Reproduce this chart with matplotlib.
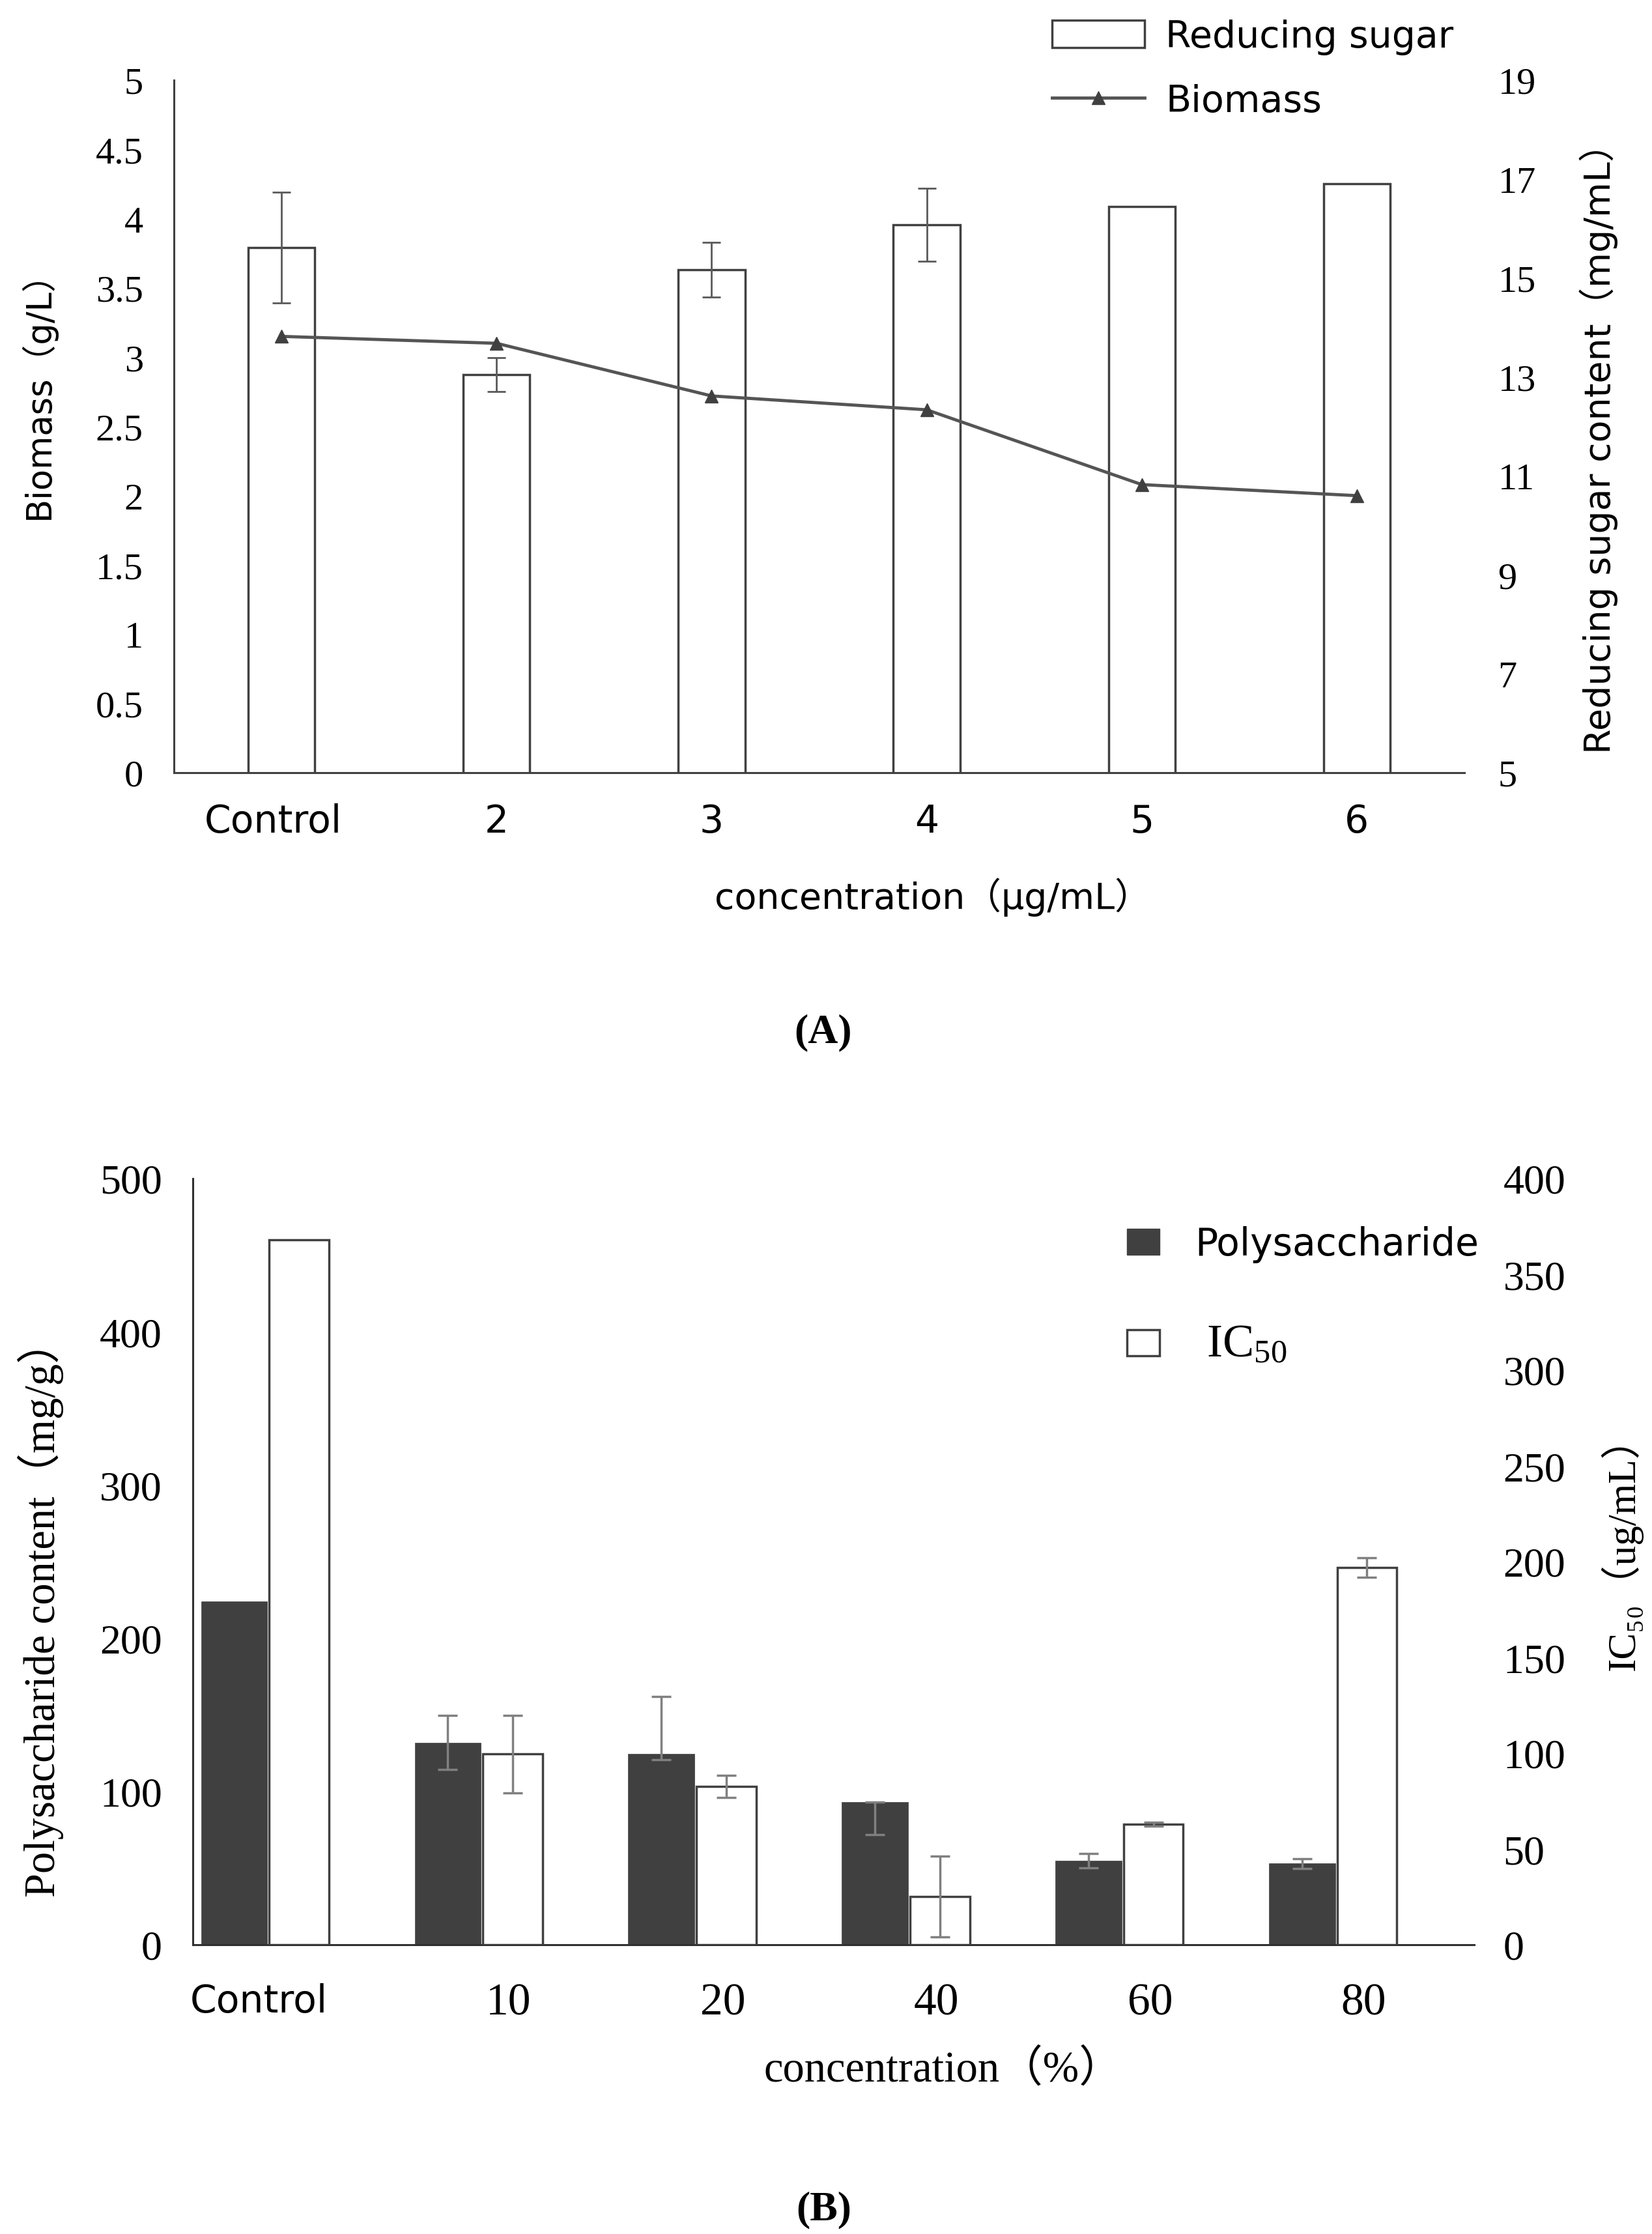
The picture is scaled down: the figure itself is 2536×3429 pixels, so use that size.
import matplotlib
matplotlib.use('Agg')
import matplotlib.pyplot as plt
from matplotlib.patches import Patch
from matplotlib.lines import Line2D
import numpy as np

plt.rcParams['mathtext.fontset'] = 'custom'
plt.rcParams['mathtext.rm'] = 'Liberation Serif'
plt.rcParams['mathtext.it'] = 'Liberation Serif:italic'
plt.rcParams['mathtext.bf'] = 'Liberation Serif:bold'

# ---------------- Panel A data ----------------
a_categories = ['Control', '2', '3', '4', '5', '6']
a_sugar = [15.62, 13.05, 15.17, 16.08, 16.45, 16.90]          # right axis, mg/mL
a_sugar_err = [1.12, 0.34, 0.55, 0.74, 0.0, 0.0]
a_biomass = [3.15, 3.10, 2.72, 2.62, 2.08, 2.00]               # left axis, g/L
a_left_ticks = [0, 0.5, 1, 1.5, 2, 2.5, 3, 3.5, 4, 4.5, 5]
a_left_ticklabels = ['0', '0.5', '1', '1.5', '2', '2.5', '3', '3.5', '4', '4.5', '5']
a_right_ticks = [5, 7, 9, 11, 13, 15, 17, 19]

# ---------------- Panel B data ----------------
b_categories = ['Control', '10', '20', '40', '60', '80']
b_poly = [224, 132, 124.4, 93, 55, 53]                         # left axis, mg/g
b_poly_err_low = [0, 17.5, 3.7, 21, 4.7, 3.1]
b_poly_err_high = [0, 17.5, 37.6, 0, 4.7, 3.1]
b_ic50 = [368, 99.5, 82.6, 25.2, 62.8, 197]                    # right axis, ug/mL
b_ic50_err = [0, 20.2, 5.8, 21, 1.0, 5.0]
b_left_ticks = [0, 100, 200, 300, 400, 500]
b_right_ticks = [0, 50, 100, 150, 200, 250, 300, 350, 400]

W, H = 2536, 3430
fig = plt.figure(figsize=(W / 100, H / 100), dpi=100)
fig.patch.set_facecolor('white')

def fx(px):
    return px / W

def fy(py):
    return 1 - py / H

SANS = ['DejaVu Sans', 'Noto Sans CJK SC']
SERIF = ['Liberation Serif', 'DejaVu Serif', 'Noto Sans CJK SC']
EDGE = '#404040'

# ======================= Panel A =======================
axA = fig.add_axes([fx(267), fy(1187), (2248 - 267) / W, (1187 - 124) / H])
axA2 = axA.twinx()
xa = np.arange(len(a_categories))

axA2.bar(xa, a_sugar, width=0.31, bottom=0, color='white', edgecolor=EDGE,
         linewidth=2.5, zorder=2)
a_err = np.array(a_sugar_err)
m = a_err > 0
axA2.errorbar(xa[m], np.array(a_sugar)[m], yerr=a_err[m], fmt='none',
              ecolor='#5a5a5a', elinewidth=2.0, capsize=10, capthick=2.0, zorder=3)
axA2.set_ylim(5, 19)
axA2.set_yticks(a_right_ticks)
axA2.set_yticklabels([str(t) for t in a_right_ticks], fontfamily='Liberation Serif', fontsize=42)
axA2.tick_params(axis='y', length=0, pad=37)
for s in axA2.spines.values():
    s.set_visible(False)

axA.plot(xa, a_biomass, color='#555555', linewidth=3.5, marker='^', markersize=15,
         markerfacecolor='#404040', markeredgecolor='#404040', zorder=5)
axA.set_zorder(axA2.get_zorder() + 1)
axA.patch.set_visible(False)
axA.set_xlim(-0.5, 5.5)
axA.set_ylim(0, 5)
axA.set_yticks(a_left_ticks)
axA.set_yticklabels(a_left_ticklabels, fontfamily='Liberation Serif', fontsize=42)
axA.set_xticks(xa + np.array([-0.04, 0, 0, 0, 0, 0]))
axA.set_xticklabels(a_categories, fontfamily='DejaVu Sans', fontsize=42)
axA.tick_params(axis='y', length=0, pad=34)
axA.tick_params(axis='x', length=0, pad=33)
for side in ['top', 'right']:
    axA.spines[side].set_visible(False)
for side in ['left', 'bottom']:
    axA.spines[side].set_color(EDGE)
    axA.spines[side].set_linewidth(2.2)

fig.text(fx(58), fy(593), 'Biomass（g/L）', rotation=90, ha='center', va='center',
         fontsize=38, family=SANS)
fig.text(fx(2454), fy(675), 'Reducing sugar content（mg/mL）', rotation=90,
         ha='center', va='center', fontsize=40, family=SANS)
fig.text(fx(1432), fy(1377), 'concentration（μg/mL）', ha='center', va='center',
         fontsize=40, family=SANS)
fig.text(fx(1264), fy(1585), '(A)', ha='center', va='center', fontsize=46,
         family='Liberation Serif', fontweight='bold')

hA = [Patch(facecolor='white', edgecolor=EDGE, linewidth=2.5),
      Line2D([], [], color='#555555', linewidth=3.5, marker='^', markersize=14,
             markerfacecolor='#404040', markeredgecolor='#404040')]
fig.legend(hA, ['Reducing sugar', 'Biomass'], loc='upper left',
           bbox_to_anchor=(fx(1615), fy(30)), frameon=False,
           prop={'family': 'DejaVu Sans', 'size': 41}, handlelength=2.5,
           handleheight=0.75, handletextpad=0.56, labelspacing=0.77,
           borderpad=0, borderaxespad=0, numpoints=1)

# ======================= Panel B =======================
axB = fig.add_axes([fx(296), fy(2986), (2263 - 296) / W, (2986 - 1810) / H])
axB2 = axB.twinx()
xb = np.arange(len(b_categories))

axB.bar(xb - 0.154, b_poly, width=0.31, color='#404040', edgecolor='#404040',
        linewidth=0.5, zorder=2)
lo = np.array(b_poly_err_low)
hi = np.array(b_poly_err_high)
m = (lo + hi) > 0
axB.errorbar((xb - 0.154)[m], np.array(b_poly)[m], yerr=[lo[m], hi[m]], fmt='none',
             ecolor='#808080', elinewidth=2.5, capsize=11, capthick=2.5, zorder=3)
axB.set_xlim(-0.348, 5.652)
axB.set_ylim(0, 500)
axB.set_yticks(b_left_ticks)
axB.set_yticklabels([str(t) for t in b_left_ticks], fontfamily='Liberation Serif', fontsize=46)
axB.set_xticks(xb + np.array([-0.04, 0.13, 0.135, 0.135, 0.135, 0.135]))
axB.set_xticklabels(b_categories, fontfamily='Liberation Serif', fontsize=50)
xtl = axB.get_xticklabels()
xtl[0].set_fontfamily('DejaVu Sans')
xtl[0].set_fontsize(42)
axB.tick_params(axis='y', length=0, pad=34)
axB.tick_params(axis='x', length=0, pad=42)
for side in ['top', 'right']:
    axB.spines[side].set_visible(False)
for side in ['left', 'bottom']:
    axB.spines[side].set_color('#303030')
    axB.spines[side].set_linewidth(2.2)

axB2.bar(xb + 0.15, b_ic50, width=0.28, color='white', edgecolor=EDGE,
         linewidth=2.5, zorder=2)
ie = np.array(b_ic50_err)
m = ie > 0
axB2.errorbar((xb + 0.15)[m], np.array(b_ic50)[m], yerr=ie[m], fmt='none',
              ecolor='#808080', elinewidth=2.5, capsize=11, capthick=2.5, zorder=3)
axB2.set_ylim(0, 400)
axB2.set_yticks(b_right_ticks)
axB2.set_yticklabels([str(t) for t in b_right_ticks], fontfamily='Liberation Serif', fontsize=46)
axB2.tick_params(axis='y', length=0, pad=32)
for s in axB2.spines.values():
    s.set_visible(False)

fig.text(fx(62), fy(2469), 'Polysaccharide content（mg/g）', rotation=90,
         ha='center', va='center', fontsize=48, family=SERIF)
fig.text(fx(2489), fy(2370), 'IC₅₀（ug/mL）', rotation=90, ha='center', va='center',
         fontsize=44, family=SERIF)
fig.text(fx(1448), fy(3177), 'concentration（%）', ha='center', va='center',
         fontsize=48, family=SERIF)
fig.text(fx(1265), fy(3392), '(B)', ha='center', va='center', fontsize=46,
         family='Liberation Serif', fontweight='bold')

hB = [Patch(facecolor='#404040', edgecolor='#404040'),
      Patch(facecolor='white', edgecolor=EDGE, linewidth=2.5)]
legB = fig.legend(hB, ['Polysaccharide', ' IC$_{50}$'], loc='upper left',
                  bbox_to_anchor=(fx(1730), fy(1882)), frameon=False,
                  prop={'family': 'DejaVu Sans', 'size': 42}, handlelength=0.85,
                  handleheight=0.68, handletextpad=0.93, labelspacing=1.6,
                  borderpad=0, borderaxespad=0)
legB.get_texts()[1].set_fontfamily('Liberation Serif')
legB.get_texts()[1].set_fontsize(52)

fig.savefig('out.png', dpi=100, facecolor='white')
